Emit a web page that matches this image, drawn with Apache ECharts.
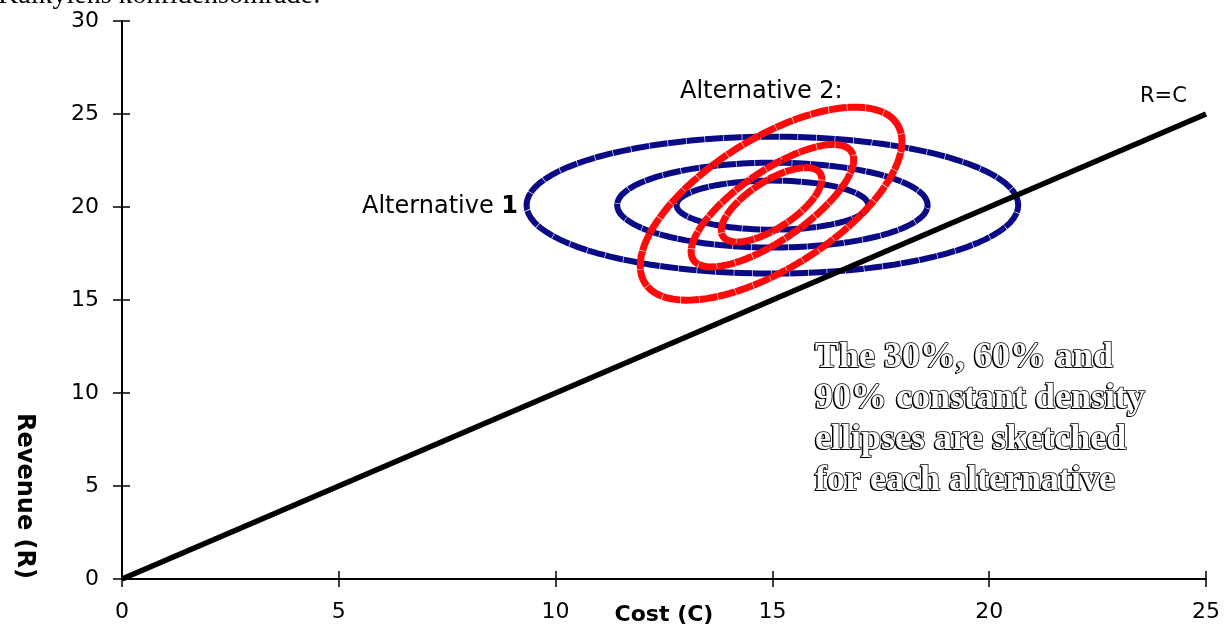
<!DOCTYPE html>
<html>
<head>
<meta charset="utf-8">
<script src="https://cdn.jsdelivr.net/npm/echarts@6/dist/echarts.min.js"></script>
<style>
  html, body { margin: 0; padding: 0; background: #fff; }
  #chart { width: 1232px; height: 634px; }
</style>
</head>
<body>
<div id="chart"></div>
<script>
// axis ranges
const costRange = [0, 25];
const revenueRange = [0, 30];
// R=C break-even line
const breakEvenLine = [[0, 0], [25, 25]];
// density levels (inner -> outer)
const densityLevels = ["30%", "60%", "90%"];
// Alternative 1: axis-aligned ellipses
const alt1CenterX = [15.0, 15.0, 15.0];
const alt1CenterY = [20.1, 20.1, 20.1];
const alt1RadiusX = [2.21, 3.58, 5.67];
const alt1RadiusY = [1.32, 2.28, 3.68];
// Alternative 2: tilted ellipses, semi-axis vectors in data units
const alt2CenterX = [14.98, 15.0, 14.97];
const alt2CenterY = [20.12, 20.07, 20.18];
const alt2Major = [[1.12, 1.7], [1.82, 2.92], [2.91, 4.27]];
const alt2Minor = [[-0.3, 1.05], [-0.45, 1.52], [-0.8, 2.95]];

const alt1Data = densityLevels.map((lv, i) => [alt1CenterX[i], alt1CenterY[i], alt1RadiusX[i], 0, 0, alt1RadiusY[i]]);
const alt2Data = densityLevels.map((lv, i) => [alt2CenterX[i], alt2CenterY[i], alt2Major[i][0], alt2Major[i][1], alt2Minor[i][0], alt2Minor[i][1]]);

// ellipse outline through the axes' own scale
function ellipseRenderer(color, width) {
  return function (params, api) {
    const cx = api.value(0), cy = api.value(1);
    const ux = api.value(2), uy = api.value(3);
    const vx = api.value(4), vy = api.value(5);
    const pts = [];
    for (let i = 0; i < 96; i++) {
      const t = (Math.PI * 2 * i) / 96;
      const c = Math.cos(t), s = Math.sin(t);
      pts.push(api.coord([cx + ux * c + vx * s, cy + uy * c + vy * s]));
    }
    return {
      type: "polygon",
      shape: { points: pts },
      style: { fill: "none", stroke: color, lineWidth: width, lineDash: [18, 0.6] },
    };
  };
}

const labelFont = "DejaVu Sans";
const tickStyle = { color: "#000", width: 1.5 };
const noteText = "The 30%, 60% and\n90% constant density\nellipses are sketched\nfor each alternative";

const myChart = echarts.init(document.getElementById("chart"));
const option = {
  animation: false,
  backgroundColor: "#fff",
  grid: { left: 122, right: 26, top: 21, bottom: 55, outerBoundsMode: "none", containLabel: false },
  xAxis: [
    {
      type: "value", min: costRange[0], max: costRange[1], interval: 5, position: "bottom",
      axisLine: { lineStyle: { color: "#000", width: 2 } },
      axisTick: { length: 8, lineStyle: tickStyle },
      axisLabel: { color: "#000", fontSize: 22, fontFamily: labelFont, margin: 22 },
      splitLine: { show: false },
      name: "Cost (C)", nameLocation: "middle", nameGap: 25, nameMoveOverlap: false,
      nameTextStyle: { color: "#000", fontSize: 22, fontWeight: "bold", fontFamily: labelFont },
    },
    {
      type: "value", min: costRange[0], max: costRange[1], interval: 5, position: "bottom",
      axisLine: { show: false },
      axisTick: { inside: true, length: 8, lineStyle: tickStyle },
      axisLabel: { show: false },
      splitLine: { show: false },
    },
  ],
  yAxis: [
    {
      type: "value", min: revenueRange[0], max: revenueRange[1], interval: 5, position: "left",
      axisLine: { lineStyle: { color: "#000", width: 2 } },
      axisTick: { length: 9, lineStyle: tickStyle },
      axisLabel: { color: "#000", fontSize: 22, fontFamily: labelFont, margin: 23 },
      splitLine: { show: false },
    },
    {
      type: "value", min: revenueRange[0], max: revenueRange[1], interval: 5, position: "left",
      axisLine: { show: false },
      axisTick: { inside: true, length: 8, lineStyle: tickStyle },
      axisLabel: { show: false },
      splitLine: { show: false },
    },
  ],
  series: [
    {
      name: "Alternative 1",
      type: "custom",
      renderItem: ellipseRenderer("#0a0a86", 6),
      encode: { x: 0, y: 1 },
      data: alt1Data,
      z: 2,
    },
    {
      name: "R=C",
      type: "line",
      data: breakEvenLine,
      symbol: "none",
      lineStyle: { color: "#000", width: 5.5 },
      z: 3,
    },
    {
      name: "Alternative 2",
      type: "custom",
      renderItem: ellipseRenderer("#ff0a0a", 7),
      encode: { x: 0, y: 1 },
      data: alt2Data,
      z: 4,
    },
  ],
  graphic: [
    {
      type: "text", x: -2, y: 10,
      style: { text: "Kalkylens konfidensområde:", font: '28px "Liberation Serif"', fill: "#000", textVerticalAlign: "bottom" },
    },
    {
      type: "text", x: 24, y: 496, rotation: -Math.PI / 2,
      style: { text: "Revenue (R)", font: 'bold 24px "DejaVu Sans"', fill: "#000", textAlign: "center", textVerticalAlign: "middle" },
    },
    {
      type: "text", x: 680, y: 92,
      style: { text: "Alternative 2:", font: '24px "DejaVu Sans"', fill: "#000", textVerticalAlign: "middle" },
    },
    {
      type: "text", x: 362, y: 207,
      style: {
        text: "{a|Alternative }{b|1}",
        textVerticalAlign: "middle",
        rich: {
          a: { fontSize: 24, fontFamily: labelFont, color: "#000" },
          b: { fontSize: 24, fontFamily: labelFont, fontWeight: "bold", color: "#000" },
        },
      },
    },
    {
      type: "text", x: 1140, y: 97,
      style: { text: "R=C", font: '21px "DejaVu Sans"', fill: "#000", textVerticalAlign: "middle" },
    },
    // note text: shadow + outlined front
    {
      type: "text", x: 813.5, y: 338.5, z: 10,
      style: { text: noteText, font: 'bold 36px "Liberation Serif"', lineHeight: 41, fill: "#000", textVerticalAlign: "top" },
    },
    {
      type: "text", x: 815, y: 337, z: 11,
      style: { text: noteText, font: 'bold 36px "Liberation Serif"', lineHeight: 41, fill: "#fff", stroke: "#000", lineWidth: 1.6, textVerticalAlign: "top" },
    },
  ],
};
myChart.setOption(option);
window.addEventListener("resize", () => myChart.resize());
</script>
</body>
</html>
